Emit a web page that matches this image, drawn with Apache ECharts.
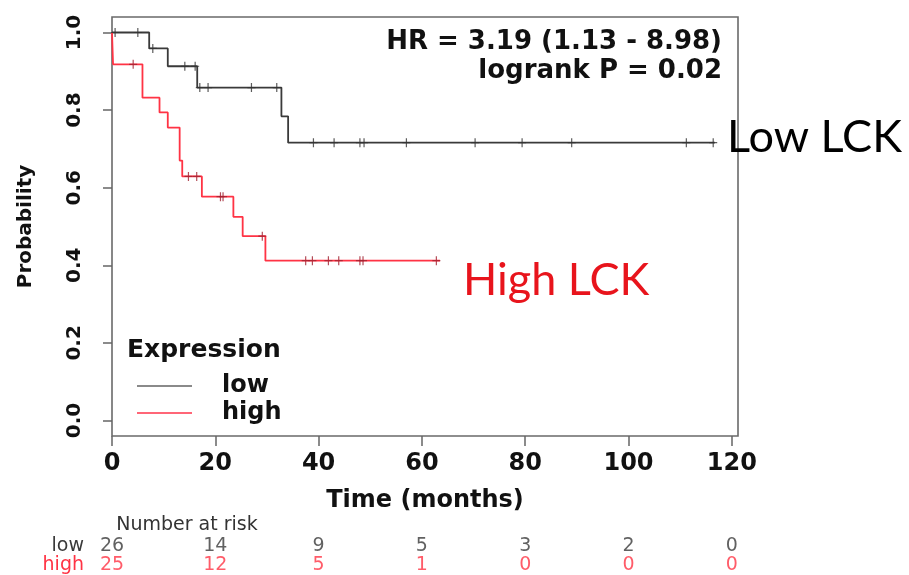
<!DOCTYPE html>
<html>
<head>
<meta charset="utf-8">
<script src="https://cdn.jsdelivr.net/npm/echarts@6/dist/echarts.min.js"></script>
<style>
  html, body { margin: 0; padding: 0; background: #fff; }
  #chart { width: 909px; height: 575px; }
</style>
</head>
<body>
<div id="chart"></div>
<script>
// ---- data ----
const lowTimes  = [0, 7.2, 10.8, 16.5, 32.8, 34.1, 116.7];
const lowSurv   = [1, 0.959, 0.913, 0.858, 0.784, 0.716, 0.716];
const highTimes = [0, 0.2, 5.9, 9.2, 10.8, 13.1, 13.6, 17.4, 23.5, 25.3, 29.7, 63.5];
const highSurv  = [1, 0.918, 0.832, 0.794, 0.755, 0.670, 0.629, 0.577, 0.525, 0.475, 0.412, 0.412];
const lowCensor  = [0.6, 5.0, 7.9, 14.1, 16.1, 17.0, 18.6, 27.0, 31.9, 39.0, 43.0, 48.0, 48.8, 57.0, 70.3, 79.4, 89.0, 111.2, 116.4];
const highCensor = [4.1, 14.8, 16.4, 21.0, 21.5, 29.1, 37.5, 38.8, 41.9, 43.9, 48.0, 48.6, 62.8];
const xTicks = [0, 20, 40, 60, 80, 100, 120];
const yTicks = [0, 0.2, 0.4, 0.6, 0.8, 1.0];
const riskTimes = [0, 20, 40, 60, 80, 100, 120];
const riskLow   = [26, 14, 9, 5, 3, 2, 0];
const riskHigh  = [25, 12, 5, 1, 0, 0, 0];
const groups = ['low', 'high'];
const hrText = 'HR = 3.19 (1.13 - 8.98)';
const pText = 'logrank P = 0.02';

// step lookup of a Kaplan-Meier curve
function survAt(times, surv, t) {
  let v = surv[0];
  for (let i = 0; i < times.length; i++) if (times[i] <= t) v = surv[i];
  return v;
}
const pairs = (a, b) => a.map((t, i) => [t, b[i]]);

const LOW = '#3a3a3a', HIGH = '#ff3344';
const F = 'DejaVu Sans';
const censorSym = 'path://M3.4,0h1.2v9h-1.2zM0,3.9h8v1.2h-8z';

const chart = echarts.init(document.getElementById('chart'), null, {renderer: 'canvas'});
chart.setOption({
  backgroundColor: '#fff',
  animation: false,
  grid: [
    {left: 112, top: 17, width: 626, height: 419, show: true, borderColor: '#6a6a6a', borderWidth: 1.6, backgroundColor: 'transparent'},
    {left: 112, top: 537, width: 626, height: 38}
  ],
  xAxis: [
    {
      type: 'value', gridIndex: 0, min: 0, max: 121.2, position: 'bottom',
      name: 'Time (months)', nameLocation: 'middle', nameGap: 53,
      nameTextStyle: {fontFamily: F, fontWeight: 'bold', fontSize: 24, color: '#111'},
      axisLine: {show: false, onZero: false},
      axisTick: {show: true, inside: false, length: 10, lineStyle: {color: '#666', width: 1.5}, customValues: xTicks},
      axisLabel: {customValues: xTicks, margin: 16, fontFamily: F, fontWeight: 'bold', fontSize: 24, color: '#111',
        formatter: v => String(v)},
      splitLine: {show: false}
    },
    {type: 'value', gridIndex: 1, min: 0, max: 121.2, show: false}
  ],
  yAxis: [
    {
      type: 'value', gridIndex: 0, min: -0.04, max: 1.04, position: 'left',
      name: 'Probability', nameLocation: 'middle', nameGap: 76,
      nameTextStyle: {fontFamily: F, fontWeight: 'bold', fontSize: 20, color: '#111'},
      axisLine: {show: false, onZero: false},
      axisTick: {show: true, inside: false, length: 9, lineStyle: {color: '#666', width: 1.5}, customValues: yTicks},
      axisLabel: {customValues: yTicks, rotate: 90, margin: 27, fontFamily: F, fontWeight: 'bold', fontSize: 20, color: '#111',
        formatter: v => v.toFixed(1)},
      splitLine: {show: false}
    },
    {
      type: 'category', gridIndex: 1, data: groups, inverse: true,
      axisLine: {show: false}, axisTick: {show: false},
      axisLabel: {interval: 0, margin: 28, fontFamily: F, fontSize: 19,
        color: (v) => v === 'high' ? HIGH : LOW}
    }
  ],
  legend: {
    data: [
      {name: 'low', icon: 'rect', itemStyle: {color: '#8a8a8a'}},
      {name: 'high', icon: 'rect', itemStyle: {color: '#ff6677'}}
    ],
    orient: 'vertical', left: 137, top: 374, padding: 0, itemGap: 3,
    itemWidth: 55, itemHeight: 2, selectedMode: false,
    textStyle: {fontFamily: F, fontWeight: 'bold', fontSize: 24, color: '#111', padding: [0, 0, 0, 25]}
  },
  series: [
    {name: 'low', type: 'line', step: 'end', xAxisIndex: 0, yAxisIndex: 0, symbol: 'none',
      data: pairs(lowTimes, lowSurv), lineStyle: {color: LOW, width: 1.8}, itemStyle: {color: LOW}, z: 3},
    {name: 'high', type: 'line', step: 'end', xAxisIndex: 0, yAxisIndex: 0, symbol: 'none',
      data: pairs(highTimes, highSurv), lineStyle: {color: HIGH, width: 1.8}, itemStyle: {color: HIGH}, z: 3},
    {name: 'low censored', type: 'scatter', xAxisIndex: 0, yAxisIndex: 0, symbol: censorSym, symbolSize: [8, 9],
      data: lowCensor.map(t => [t, survAt(lowTimes, lowSurv, t)]), itemStyle: {color: '#333'}, z: 4},
    {name: 'high censored', type: 'scatter', xAxisIndex: 0, yAxisIndex: 0, symbol: censorSym, symbolSize: [8, 9],
      data: highCensor.map(t => [t, survAt(highTimes, highSurv, t)]), itemStyle: {color: '#a02030'}, z: 4},
    {name: 'risk low', type: 'scatter', xAxisIndex: 1, yAxisIndex: 1, symbolSize: 0,
      data: riskTimes.map((t, i) => [t, 'low', riskLow[i]]),
      label: {show: true, position: 'inside', formatter: p => p.value[2], fontFamily: F, fontSize: 19, color: LOW}},
    {name: 'risk high', type: 'scatter', xAxisIndex: 1, yAxisIndex: 1, symbolSize: 0,
      data: riskTimes.map((t, i) => [t, 'high', riskHigh[i]]),
      label: {show: true, position: 'inside', formatter: p => p.value[2], fontFamily: F, fontSize: 19, color: HIGH}}
  ],
  graphic: [
    {type: 'text', x: 722, y: 42, style: {text: hrText, align: 'right', verticalAlign: 'middle', font: 'bold 26px "DejaVu Sans"', fill: '#111'}},
    {type: 'text', x: 722, y: 71, style: {text: pText, align: 'right', verticalAlign: 'middle', font: 'bold 26px "DejaVu Sans"', fill: '#111'}},
    {type: 'text', x: 127, y: 350, style: {text: 'Expression', align: 'left', verticalAlign: 'middle', font: 'bold 25px "DejaVu Sans"', fill: '#111'}},
    {type: 'text', x: 187, y: 525, style: {text: 'Number at risk', align: 'center', verticalAlign: 'middle', font: '19px "DejaVu Sans"', fill: '#333'}},
    {type: 'text', x: 727, y: 137, style: {text: 'Low LCK', align: 'left', verticalAlign: 'middle', font: '45px Lato', fill: '#000'}},
    {type: 'text', x: 463, y: 280, style: {text: 'High LCK', align: 'left', verticalAlign: 'middle', font: '45px Lato', fill: '#e8141c'}}
  ]
});
</script>
</body>
</html>
